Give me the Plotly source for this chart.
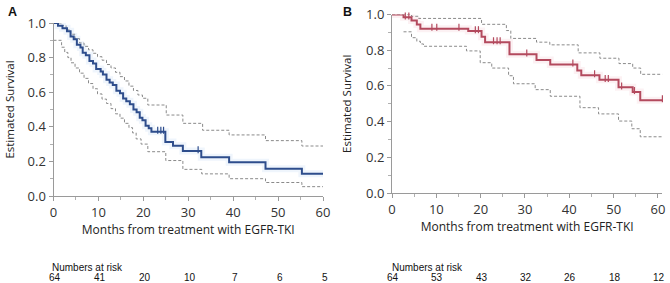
import plotly.graph_objects as go

# ---------------- Panel A data ----------------
time_a = [0, 1, 2, 3, 3.8, 4.5, 5.2, 6, 6.5, 7.2, 8, 8.8, 9.5, 10.5, 11, 11.8, 12.5, 13.2, 14, 14.8,
          15.5, 16.2, 17, 17.8, 18.5, 19.2, 19.8, 20.5, 21.2, 21.8, 24.9, 26.6, 28.8, 32.9, 39.1, 47.2, 55.3, 60]
surv_a = [1.0, 0.984, 0.969, 0.953, 0.922, 0.906, 0.875, 0.859, 0.828, 0.813, 0.781, 0.766, 0.734, 0.719, 0.703,
          0.672, 0.656, 0.641, 0.609, 0.594, 0.563, 0.547, 0.531, 0.500, 0.484, 0.453, 0.438, 0.406, 0.391, 0.372,
          0.312, 0.29, 0.26, 0.224, 0.195, 0.158, 0.129, 0.129]
cens_a_t = [23.2, 23.9, 24.5, 32.2]
cens_a_s = [0.372, 0.372, 0.372, 0.26]

up_a_t = [0, 1.8, 2.8, 3.8, 4.8, 5.8, 6.8, 7.8, 8.8, 9.8, 10.8, 11.8, 12.8, 13.8, 14.8, 15.8, 16.8, 17.8, 18.8,
          19.8, 21, 25.1, 28.8, 33.2, 39.1, 47.2, 55.3, 60]
up_a_s = [1.0, 0.985, 0.96, 0.935, 0.91, 0.885, 0.865, 0.845, 0.825, 0.805, 0.785, 0.76, 0.74, 0.715, 0.69, 0.665,
          0.635, 0.61, 0.584, 0.565, 0.526, 0.468, 0.42, 0.38, 0.353, 0.32, 0.289, 0.289]
lo_a_t = [0, 1.8, 2.5, 3.2, 3.9, 4.8, 5.8, 6.8, 7.8, 8.8, 9.8, 10.8, 11.8, 12.8, 13.8, 14.8, 15.8, 16.8, 17.6,
          18.4, 19.5, 21, 25, 28.8, 33, 39.1, 47.2, 55.3, 60]
lo_a_s = [0.90, 0.86, 0.83, 0.80, 0.77, 0.74, 0.71, 0.68, 0.65, 0.62, 0.59, 0.56, 0.535, 0.505, 0.475, 0.45, 0.42,
          0.395, 0.365, 0.33, 0.30, 0.256, 0.205, 0.154, 0.128, 0.100, 0.078, 0.054, 0.054]
risk_a = ["64", "41", "20", "10", "7", "6", "5"]

# ---------------- Panel B data ----------------
time_b = [0, 2.6, 4.4, 5.6, 6.4, 17.2, 20.2, 21, 26.5, 32.6, 35.7, 41.8, 42.7, 46.8, 51.1, 54.3, 56, 61]
surv_b = [1.0, 0.984, 0.966, 0.944, 0.92, 0.907, 0.876, 0.845, 0.777, 0.745, 0.72, 0.686, 0.66, 0.634, 0.592,
          0.566, 0.52, 0.52]
cens_b_t = [3.0, 3.8, 9.0, 10.1, 15.1, 18.8, 19.5, 22.9, 23.7, 24.4, 30.4, 40.8, 45.7, 48.1, 48.8, 51.8, 54.7, 61]
cens_b_s = [0.984, 0.984, 0.92, 0.92, 0.92, 0.907, 0.907, 0.845, 0.845, 0.845, 0.777, 0.72, 0.66, 0.634, 0.634,
            0.592, 0.566, 0.52]

up_b_t = [0, 4.4, 6, 20.2, 25.8, 26.8, 32.6, 35.6, 42, 46.9, 51.2, 54.3, 56.1, 61]
up_b_s = [1.0, 0.99, 0.978, 0.945, 0.91, 0.866, 0.845, 0.83, 0.785, 0.755, 0.725, 0.70, 0.665, 0.665]
lo_b_t = [2.6, 4.4, 5.6, 6.4, 7.1, 16.8, 19.9, 22.5, 26.3, 27.4, 32.3, 35.7, 42.4, 46.6, 51.1, 54.1, 56, 61]
lo_b_s = [0.903, 0.87, 0.85, 0.835, 0.822, 0.796, 0.73, 0.70, 0.657, 0.612, 0.579, 0.542, 0.478, 0.443, 0.403,
          0.36, 0.315, 0.315]
risk_b = ["64", "53", "43", "32", "26", "18", "12"]

risk_months = [0, 10, 20, 30, 40, 50, 60]
x_ticks = [0, 10, 20, 30, 40, 50, 60]

BLUE = "#2e4d8c"
RED = "#b34a5e"
CI = "#8a8a8a"
W, H = 670, 283

fig = go.Figure()


def add_panel(xa, ya, t, s, ct, cs, ut, us, lt, ls, col, halo):
    fig.add_trace(go.Scatter(x=ut, y=us, mode="lines", line=dict(shape="hv", color=CI, width=1, dash="3px,2px"),
                             xaxis=xa, yaxis=ya, hoverinfo="skip", cliponaxis=False))
    fig.add_trace(go.Scatter(x=lt, y=ls, mode="lines", line=dict(shape="hv", color=CI, width=1, dash="3px,2px"),
                             xaxis=xa, yaxis=ya, hoverinfo="skip", cliponaxis=False))
    fig.add_trace(go.Scatter(x=t, y=s, mode="lines", line=dict(shape="hv", color=halo, width=7),
                             xaxis=xa, yaxis=ya, hoverinfo="skip", cliponaxis=False))
    fig.add_trace(go.Scatter(x=t, y=s, mode="lines", line=dict(shape="hv", color=col, width=2),
                             xaxis=xa, yaxis=ya, cliponaxis=False))
    fig.add_trace(go.Scatter(x=ct, y=[v + 0.008 for v in cs], mode="markers",
                             marker=dict(symbol="line-ns", size=5, line=dict(color=col, width=1.2)),
                             xaxis=xa, yaxis=ya, cliponaxis=False))


add_panel("x", "y", time_a, surv_a, cens_a_t, cens_a_s, up_a_t, up_a_s, lo_a_t, lo_a_s, BLUE,
          "rgba(120,170,230,0.12)")
add_panel("x2", "y2", time_b, surv_b, cens_b_t, cens_b_s, up_b_t, up_b_s, lo_b_t, lo_b_s, RED,
          "rgba(230,120,140,0.10)")

tickfont = dict(family="Open Sans", size=13, color="#333")
titlefont = dict(family="Open Sans", size=12, color="#222")
ytitlefont = dict(family="Open Sans", size=11.5, color="#222")
axis_common = dict(showline=True, linecolor="#9a9a9a", linewidth=1, ticks="outside", ticklen=4,
                   tickcolor="#9a9a9a", showgrid=False, zeroline=False, tickfont=tickfont, automargin=False)
minor_x = dict(tickvals=[5, 15, 25, 35, 45, 55], ticks="outside", ticklen=3, tickcolor="#b0b0b0", showgrid=False)
minor_y = dict(tickvals=[0.1, 0.3, 0.5, 0.7, 0.9], ticks="outside", ticklen=3, tickcolor="#b0b0b0", showgrid=False)


def px_x(p):
    return p / W


def px_y(p):
    return 1 - p / H


fig.update_layout(
    width=W, height=H, margin=dict(l=0, r=0, t=0, b=0, autoexpand=False),
    paper_bgcolor="white", plot_bgcolor="white", showlegend=False,
    xaxis=dict(domain=[px_x(53.5), px_x(323)], range=[0, 60], tickvals=x_ticks, anchor="y", minor=minor_x,
               title=dict(text="Months from treatment with EGFR-TKI", font=titlefont, standoff=5),
               **axis_common),
    yaxis=dict(domain=[px_y(196), px_y(23)], range=[0, 1.0], dtick=0.2, tickformat=".1f", anchor="x",
               minor=minor_y, title=dict(text="Estimated Survival", font=ytitlefont, standoff=10),
               **axis_common),
    xaxis2=dict(domain=[px_x(392), px_x(662.4)], range=[0, 61], tickvals=x_ticks, anchor="y2", minor=minor_x,
                title=dict(text="Months from treatment with EGFR-TKI", font=titlefont, standoff=5),
                **axis_common),
    yaxis2=dict(domain=[px_y(193), px_y(14.5)], range=[0, 1.0], dtick=0.2, tickformat=".1f", anchor="x2",
                minor=minor_y, title=dict(text="Estimated Survival", font=ytitlefont, standoff=12),
                **axis_common),
)

ann = []
ann.append(dict(text="<b>A</b>", x=px_x(12), y=px_y(12.5), xref="paper", yref="paper", showarrow=False,
                xanchor="center", yanchor="middle",
                font=dict(family="Liberation Sans", size=12.5, color="#111")))
ann.append(dict(text="<b>B</b>", x=px_x(347.5), y=px_y(12.5), xref="paper", yref="paper", showarrow=False,
                xanchor="center", yanchor="middle",
                font=dict(family="Liberation Sans", size=12.5, color="#111")))
riskfont = dict(family="Liberation Sans", size=10, color="#111")
ann.append(dict(text="Numbers at risk", x=px_x(49.5), y=px_y(267), xref="paper", yref="paper", xanchor="left",
                yanchor="middle", showarrow=False, font=riskfont))
ann.append(dict(text="Numbers at risk", x=px_x(389.5), y=px_y(267), xref="paper", yref="paper", xanchor="left",
                yanchor="middle", showarrow=False, font=riskfont))
for m, r in zip(risk_months, risk_a):
    ann.append(dict(text=r, x=m, y=px_y(277.5), xref="x", yref="paper", showarrow=False, font=riskfont,
                    xanchor="center", yanchor="middle", xshift=1.5))
for m, r in zip(risk_months, risk_b):
    ann.append(dict(text=r, x=m, y=px_y(277.5), xref="x2", yref="paper", showarrow=False, font=riskfont,
                    xanchor="center", yanchor="middle", xshift=1))
fig.update_layout(annotations=ann)

fig.write_html("out.html", config={"displayModeBar": False},
               post_script="document.body.style.margin='0px';document.body.style.padding='0px';")
